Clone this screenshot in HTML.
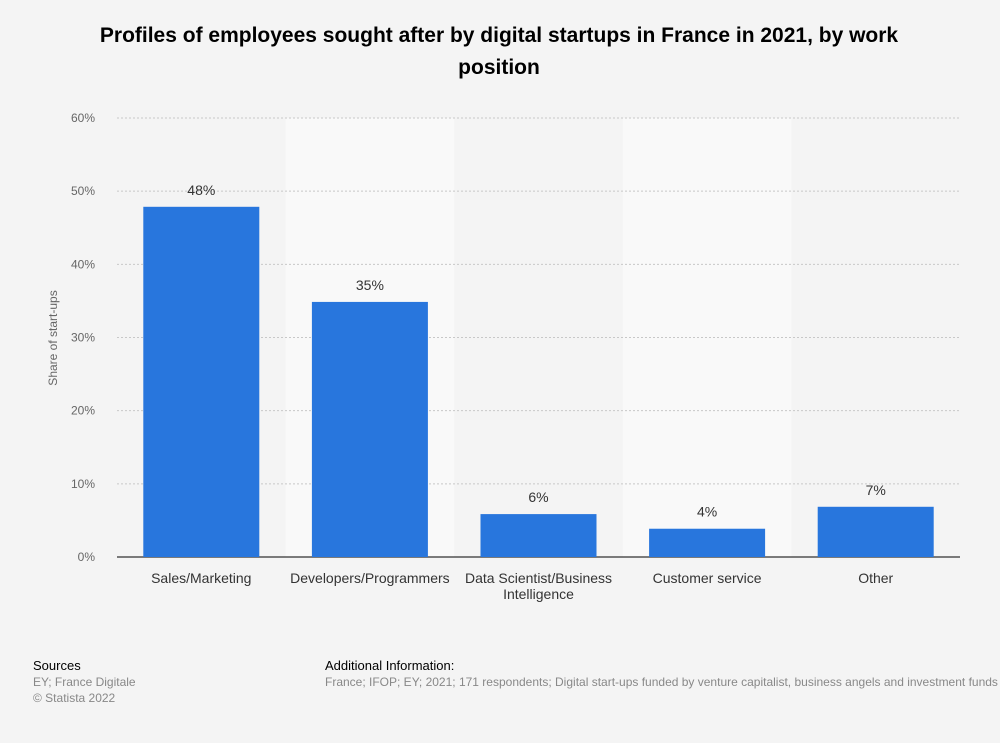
<!DOCTYPE html>
<html><head><meta charset="utf-8"><style>
body{margin:0;background:#f4f4f4;font-family:"Liberation Sans",sans-serif;}
#wrap{position:relative;width:1000px;height:743px;background:#f4f4f4;overflow:hidden}
</style></head><body>
<div id="wrap">
<svg id="chart" width="1000" height="743">
<text x="499" y="42" text-anchor="middle" font-size="21" font-weight="bold" fill="#000">Profiles of employees sought after by digital startups in France in 2021, by work</text>
<text x="499" y="74" text-anchor="middle" font-size="21" font-weight="bold" fill="#000">position</text>
<text transform="translate(57,338) rotate(-90)" text-anchor="middle" font-size="12" fill="#666">Share of start-ups</text>
<g id="bands"></g><g id="grid"></g><g id="bars"></g>
<text x="33" y="670" font-size="13" fill="#000">Sources</text>
<text x="33" y="686" font-size="12" fill="#888">EY; France Digitale</text>
<text x="33" y="702" font-size="12" fill="#888">© Statista 2022</text>
<text x="325" y="670" font-size="13" fill="#000">Additional Information:</text>
<text x="325" y="686" font-size="12" fill="#888">France; IFOP; EY; 2021; 171 respondents; Digital start-ups funded by venture capitalist, business angels and investment funds</text>
</svg></div>
<script>
const categories=[["Sales/Marketing"],["Developers/Programmers"],["Data Scientist/Business","Intelligence"],["Customer service"],["Other"]];
const values=[48,35,6,4,7];
const ticks=[0,10,20,30,40,50,60];
const NS="http://www.w3.org/2000/svg";
const x0=117,x1=960,yb=557,yt=118,ymax=60;
const bw=(x1-x0)/categories.length;
const y=v=>yb-(v/ymax)*(yb-yt);
const xs=i=>x0+i*bw;
function mk(t,a,p){const e=document.createElementNS(NS,t);for(const k in a)e.setAttribute(k,a[k]);document.getElementById(p).appendChild(e);return e;}
categories.forEach((c,i)=>{if(i%2==1){const r=mk('rect',{x:xs(i),y:yt,width:bw,height:yb-yt,fill:'#f9f9f9'},'bands');

}});
ticks.forEach(t=>{const l=mk('line',{x1:x0,x2:x1,y1:y(t),y2:y(t),stroke:t==0?'#000':'#c8c8c8','stroke-width':1,'stroke-dasharray':t==0?'':'2,2'},'grid');


const tx=mk('text',{x:95,y:y(t)+4,'text-anchor':'end','font-size':12,fill:'#666'},'grid');tx.textContent=t+'%';

});
values.forEach((v,i)=>{const cx=xs(i)+bw/2;
const r=mk('rect',{x:cx-58,y:y(v)+1,width:116,height:yb-y(v)-1,fill:'#2876dd'},'bars');


const lb=mk('text',{x:cx,y:y(v)-11,'text-anchor':'middle','font-size':14,fill:'#333'},'bars');lb.textContent=v+'%';


categories[i].forEach((s,j)=>{const t=mk('text',{x:cx,y:583+j*16,'text-anchor':'middle','font-size':14,fill:'#333'},'bars');t.textContent=s;

});});
</script></body></html>
